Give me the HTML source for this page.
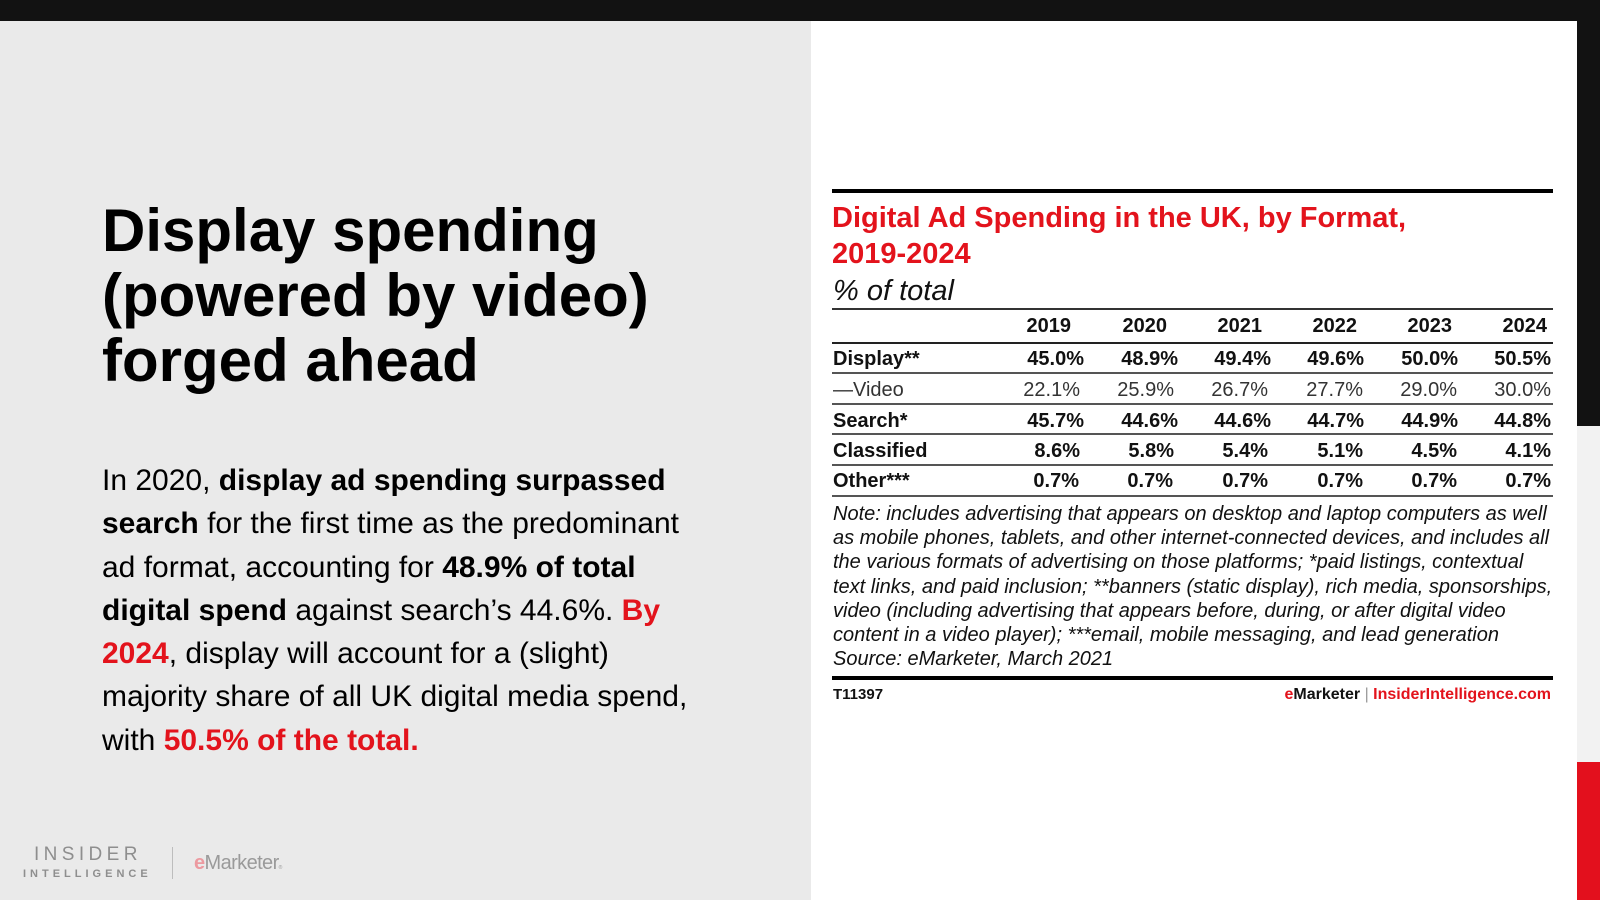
<!DOCTYPE html>
<html>
<head>
<meta charset="utf-8">
<style>
  html,body{margin:0;padding:0;}
  body{width:1600px;height:900px;overflow:hidden;background:#fff;font-family:"Liberation Sans",Arial,sans-serif;}
  #wrap{position:relative;width:1600px;height:900px;overflow:hidden;background:#fff;}
  .abs{position:absolute;white-space:nowrap;}
  .red{color:#e3131c;}
  .hline{position:absolute;left:832px;width:721px;}
  .lbl{position:absolute;left:833px;font-size:20px;line-height:24px;font-weight:bold;color:#111;white-space:nowrap;}
  .v{position:absolute;font-size:20px;line-height:24px;font-weight:bold;color:#111;white-space:nowrap;text-align:right;width:90px;}
  .lt{font-weight:normal;color:#333;}
</style>
</head>
<body>
<div id="wrap">
  <!-- backgrounds -->
  <div class="abs" style="left:0;top:0;width:811px;height:900px;background:#eaeaea;"></div>
  <div class="abs" style="left:0;top:0;width:1600px;height:21px;background:#121212;"></div>
  <div class="abs" style="left:1577px;top:0;width:23px;height:426px;background:#121212;"></div>
  <div class="abs" style="left:1577px;top:426px;width:23px;height:336px;background:#f2f2f2;"></div>
  <div class="abs" style="left:1577px;top:762px;width:23px;height:138px;background:#e3101d;"></div>

  <!-- left heading -->
  <div class="abs" style="left:102px;top:198px;font-size:60px;line-height:65px;font-weight:bold;color:#000;">Display spending<br>(powered by video)<br>forged ahead</div>

  <!-- left body -->
  <div class="abs" style="left:102px;top:459px;font-size:30px;line-height:43.3px;color:#000;">In 2020, <b>display ad spending surpassed</b><br><b>search</b> for the first time as the predominant<br>ad format, accounting for <b>48.9% of total</b><br><b>digital spend</b> against search’s 44.6%. <b class="red">By</b><br><b class="red">2024</b>, display will account for a (slight)<br>majority share of all UK digital media spend,<br>with <b class="red">50.5% of the total.</b></div>

  <!-- logo -->
  <div class="abs" style="left:34px;top:845px;font-size:19px;line-height:20px;letter-spacing:4.4px;color:#8e8e8e;">INSIDER</div>
  <div class="abs" style="left:23px;top:869px;font-size:11px;line-height:11px;letter-spacing:4.0px;color:#8e8e8e;font-weight:bold;">INTELLIGENCE</div>
  <div class="abs" style="left:172px;top:847px;width:1px;height:32px;background:#bdbdbd;"></div>
  <div class="abs" style="left:194px;top:852px;font-size:20px;line-height:22px;letter-spacing:-0.6px;color:#9a9a9a;"><span style="color:#ec9aa0;font-weight:bold;">e</span>Marketer<span style="font-size:5px;">®</span></div>

  <!-- table -->
  <div class="hline" style="top:189px;height:4px;background:#000;"></div>
  <div class="abs red" style="left:832px;top:200px;font-size:29px;line-height:36px;font-weight:bold;">Digital Ad Spending in the UK, by Format,<br>2019-2024</div>
  <div class="abs" style="left:833px;top:273px;font-size:29px;line-height:36px;font-style:italic;color:#111;">% of total</div>
  <div class="hline" style="top:308px;height:2px;background:#333;"></div>

  <!-- header years -->
  <div class="v" style="left:981px;top:314px;">2019</div>
  <div class="v" style="left:1077px;top:314px;">2020</div>
  <div class="v" style="left:1172px;top:314px;">2021</div>
  <div class="v" style="left:1267px;top:314px;">2022</div>
  <div class="v" style="left:1362px;top:314px;">2023</div>
  <div class="v" style="left:1457px;top:314px;">2024</div>
  <div class="hline" style="top:342px;height:2px;background:#222;"></div>

  <!-- Display -->
  <div class="lbl" style="top:347px;">Display**</div>
  <div class="v" style="left:994px;top:347px;">45.0%</div>
  <div class="v" style="left:1088px;top:347px;">48.9%</div>
  <div class="v" style="left:1181px;top:347px;">49.4%</div>
  <div class="v" style="left:1274px;top:347px;">49.6%</div>
  <div class="v" style="left:1368px;top:347px;">50.0%</div>
  <div class="v" style="left:1461px;top:347px;">50.5%</div>
  <div class="hline" style="top:372px;height:2px;background:#555;"></div>

  <!-- Video -->
  <div class="lbl lt" style="top:378px;">—Video</div>
  <div class="v lt" style="left:990px;top:378px;">22.1%</div>
  <div class="v lt" style="left:1084px;top:378px;">25.9%</div>
  <div class="v lt" style="left:1178px;top:378px;">26.7%</div>
  <div class="v lt" style="left:1273px;top:378px;">27.7%</div>
  <div class="v lt" style="left:1367px;top:378px;">29.0%</div>
  <div class="v lt" style="left:1461px;top:378px;">30.0%</div>
  <div class="hline" style="top:403px;height:2px;background:#555;"></div>

  <!-- Search -->
  <div class="lbl" style="top:409px;">Search*</div>
  <div class="v" style="left:994px;top:409px;">45.7%</div>
  <div class="v" style="left:1088px;top:409px;">44.6%</div>
  <div class="v" style="left:1181px;top:409px;">44.6%</div>
  <div class="v" style="left:1274px;top:409px;">44.7%</div>
  <div class="v" style="left:1368px;top:409px;">44.9%</div>
  <div class="v" style="left:1461px;top:409px;">44.8%</div>
  <div class="hline" style="top:433px;height:2px;background:#555;"></div>

  <!-- Classified -->
  <div class="lbl" style="top:439px;">Classified</div>
  <div class="v" style="left:990px;top:439px;">8.6%</div>
  <div class="v" style="left:1084px;top:439px;">5.8%</div>
  <div class="v" style="left:1178px;top:439px;">5.4%</div>
  <div class="v" style="left:1273px;top:439px;">5.1%</div>
  <div class="v" style="left:1367px;top:439px;">4.5%</div>
  <div class="v" style="left:1461px;top:439px;">4.1%</div>
  <div class="hline" style="top:464px;height:2px;background:#555;"></div>

  <!-- Other -->
  <div class="lbl" style="top:469px;">Other***</div>
  <div class="v" style="left:989px;top:469px;">0.7%</div>
  <div class="v" style="left:1083px;top:469px;">0.7%</div>
  <div class="v" style="left:1178px;top:469px;">0.7%</div>
  <div class="v" style="left:1273px;top:469px;">0.7%</div>
  <div class="v" style="left:1367px;top:469px;">0.7%</div>
  <div class="v" style="left:1461px;top:469px;">0.7%</div>
  <div class="hline" style="top:495px;height:2px;background:#555;"></div>

  <!-- note -->
  <div class="abs" style="left:833px;top:502px;font-size:20px;line-height:24.2px;font-style:italic;color:#111;">Note: includes advertising that appears on desktop and laptop computers as well<br>as mobile phones, tablets, and other internet-connected devices, and includes all<br>the various formats of advertising on those platforms; *paid listings, contextual<br>text links, and paid inclusion; **banners (static display), rich media, sponsorships,<br>video (including advertising that appears before, during, or after digital video<br>content in a video player); ***email, mobile messaging, and lead generation<br>Source: eMarketer, March 2021</div>

  <div class="hline" style="top:676px;height:4px;background:#000;"></div>
  <div class="abs" style="left:833px;top:686px;font-size:15px;line-height:17px;font-weight:bold;color:#111;">T11397</div>
  <div class="abs" style="left:1153px;width:398px;text-align:right;top:686px;font-size:16px;line-height:17px;font-weight:bold;color:#111;"><span class="red">e</span>Marketer <span style="color:#999;font-weight:normal;">|</span> <span class="red">InsiderIntelligence.com</span></div>
</div>
</body>
</html>
